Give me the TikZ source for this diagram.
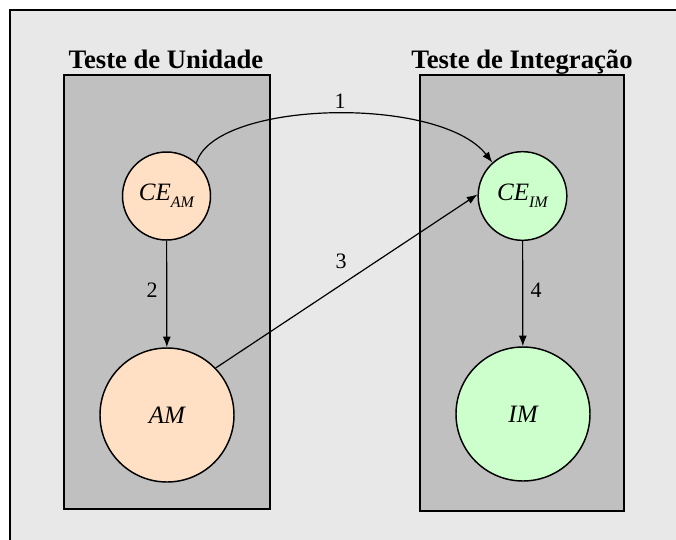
\documentclass[tikz,border=0pt]{standalone}
\usepackage{fontspec}
\setmainfont{Liberation Serif}
\usetikzlibrary{arrows.meta}
\definecolor{bgc}{RGB}{232,232,232}
\definecolor{panelc}{RGB}{192,192,192}
\definecolor{peach}{RGB}{255,224,196}
\definecolor{mint}{RGB}{204,255,204}
\newcommand\subx[1]{\raisebox{-0.28em}{\fontsize{12}{14}\selectfont #1}}
\begin{document}
\begin{tikzpicture}[x=0.75pt,y=-0.75pt,
  panelbox/.style={draw=black,line width=1.2pt,fill=panelc},
  titletext/.style={font=\fontsize{20}{24}\selectfont\bfseries,anchor=base,inner sep=0pt},
  circnode/.style={circle,draw=black,line width=1.1pt,inner sep=0pt,font=\fontsize{18.75}{22}\selectfont\itshape},
  unitnode/.style={circnode,fill=peach},
  intnode/.style={circnode,fill=mint},
  conn/.style={line width=0.9pt,-{Latex[length=8pt,width=6pt]}},
  lbl/.style={font=\fontsize{16.5}{20}\selectfont,inner sep=0pt}
]
\clip (0,0) rectangle (676,540);
\fill[white] (0,0) rectangle (676,540);
\draw[fill=bgc,line width=1.5pt] (10,10) rectangle (700,570);
\draw[panelbox] (64,75) rectangle (270,509);
\draw[panelbox] (420,75) rectangle (624,511);
\node[titletext] (t1) at (166,68) {Teste de Unidade};
\node[titletext] (t2) at (522,68) {Teste de Integração};
\node[unitnode,minimum size=66pt] (ceam) at (166.5,196) {CE\subx{AM}};
\node[unitnode,minimum size=100.5pt] (am) at (167,415) {AM};
\node[intnode,minimum size=66.5pt] (ceim) at (522.5,196) {CE\subx{IM}};
\node[intnode,minimum size=100.5pt] (im) at (523,414) {IM};
\draw[conn] (ceam.48) .. controls (215,100) and (440,95) .. (ceim.132);
\draw[conn] (ceam) -- (am);
\draw[conn] (am.44) -- (ceim.178);
\draw[conn] (ceim) -- (im);
\node[lbl] (n1) at (340,101) {1};
\node[lbl] (n2) at (152,290) {2};
\node[lbl] (n3) at (341,261) {3};
\node[lbl] (n4) at (536,290) {4};
\end{tikzpicture}
\end{document}
